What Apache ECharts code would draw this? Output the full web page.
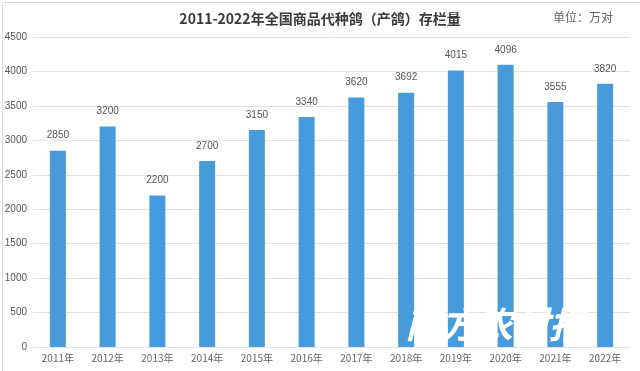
<!DOCTYPE html>
<html><head><meta charset="utf-8">
<script src="https://cdn.jsdelivr.net/npm/echarts@6/dist/echarts.min.js"></script>
<style>html,body{margin:0;padding:0;background:#fff}#c{width:640px;height:371px}</style>
</head><body><div id="c"></div>
<script>
var categories = ['2011年','2012年','2013年','2014年','2015年','2016年','2017年','2018年','2019年','2020年','2021年','2022年'];
var values = [2850,3200,2200,2700,3150,3340,3620,3692,4015,4096,3555,3820];
var titleText = '2011-2022年全国商品代种鸽（产鸽）存栏量';
var unitText = '单位：万对';
var watermark = '南方农村报';

var chart = echarts.init(document.getElementById('c'));
chart.setOption({
  backgroundColor: '#fff',
  animation: false,
  title: {
    text: titleText, left: 'center', top: 7,
    textStyle: {fontFamily: 'Noto Sans CJK SC', fontSize: 14, fontWeight: 'bold', color: '#3a3a3a'}
  },
  grid: {left: 33, right: 10, top: 37, bottom: 24},
  xAxis: {
    type: 'category', data: categories,
    axisLine: {show: true, lineStyle: {color: '#e2e2e2'}},
    axisTick: {show: false},
    axisLabel: {color: '#666', fontSize: 10, fontFamily: 'Noto Sans CJK SC', margin: 6}
  },
  yAxis: {
    type: 'value', min: 0, max: 4500, interval: 500,
    axisLine: {show: false}, axisTick: {show: false},
    splitLine: {lineStyle: {color: '#e2e2e2'}},
    axisLabel: {color: '#555', fontSize: 10, fontFamily: 'Liberation Sans', margin: 6, formatter: function (v) { return String(v); }}
  },
  series: [{
    type: 'bar', data: values, barWidth: 16,
    itemStyle: {color: '#489bdb'},
    label: {show: true, position: 'top', distance: 10, color: '#555', fontSize: 10, fontFamily: 'Liberation Sans'}
  }],
  graphic: [
    {type: 'text', left: 553, top: 11, style: {text: unitText, fill: '#666', fontSize: 12, fontFamily: 'Noto Sans CJK SC'}},
    {type: 'rect', left: 0, top: 0, shape: {width: 639, height: 370}, style: {fill: 'none', stroke: '#dcdcdc', lineWidth: 1}, silent: true},
    {type: 'text', left: 405, top: 306, z: 100, style: {text: watermark, fill: '#ffffff', fontSize: 36, fontStyle: 'italic', fontWeight: 'bold', fontFamily: 'Noto Sans CJK SC', shadowBlur: 1, shadowColor: 'rgba(0,0,0,0.12)'}}
  ]
});
</script></body></html>
